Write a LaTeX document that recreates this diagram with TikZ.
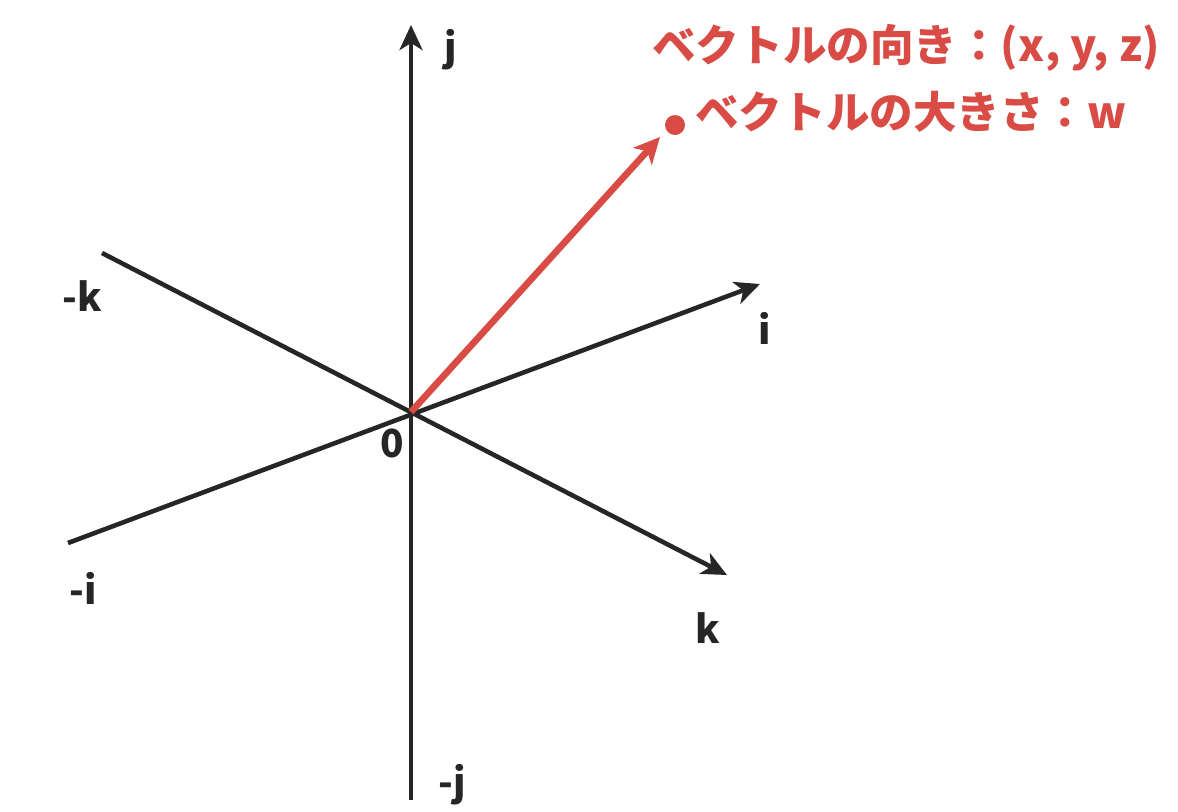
\documentclass[tikz,border=0pt]{standalone}
\usepackage{fontspec}
\setmainfont{Noto Sans CJK JP}
\usepackage{xcolor}
\usetikzlibrary{arrows.meta}
\usetikzlibrary{calc}
\definecolor{vecred}{HTML}{D94B45}
\definecolor{axisblack}{HTML}{262626}

\begin{document}
\begin{tikzpicture}[x=0.02cm, y=-0.02cm,
    axis/.style={line width=2.6pt, draw=axisblack},
    axisarrow/.style={axis, -{Stealth[length=0.5cm, width=0.46cm, inset=0.14cm]}},
    lbl/.style={text=axisblack, font=\fontsize{22}{26}\selectfont\bfseries, inner sep=0pt},
    redlbl/.style={text=vecred, font=\fontsize{24.8}{28}\selectfont\bfseries, inner sep=0pt}]
            \useasboundingbox (0,0) rectangle (1178,812);
            \coordinate (o) at (411,412);
            \coordinate (jtop) at (411,25);
            \coordinate (jbot) at (411,800);
            \coordinate (ipos) at (760,284);
            \coordinate (ineg) at (68,543);
            \coordinate (kpos) at (727,575);
            \coordinate (kneg) at (102,253);
            \coordinate (vtip) at (660,137);
            \draw (451,50) node[lbl]                  (j) {j};
            \draw (452,785) node[lbl]                 (mj) {-j};
            \draw (765,328) node[lbl]                 (i) {i};
            \draw (83,588) node[lbl]                  (mi) {-i};
            \draw (708,628) node[lbl]                 (k) {k};
            \draw (82,296) node[lbl]                  (mk) {-k};
            \draw (392,443) node[lbl]                 (zero) {0};
            \draw (906,48) node[redlbl]               (dir) {ベクトルの向き：(x, y, z)};
            \draw (695,112) node[redlbl, anchor=west] (size) {ベクトルの大きさ：w};
            \draw (jbot) edge[axisarrow] (jtop);
            \draw (ineg) edge[axisarrow] (ipos);
            \draw (kneg) edge[axisarrow] (kpos);
            \draw[line width=3.8pt, draw=vecred, -{Stealth[length=0.52cm, width=0.5cm, inset=0.14cm]}] (o) -- (vtip);
            \fill[vecred] (675,125) circle (10) coordinate (pt);
\end{tikzpicture}
\end{document}
